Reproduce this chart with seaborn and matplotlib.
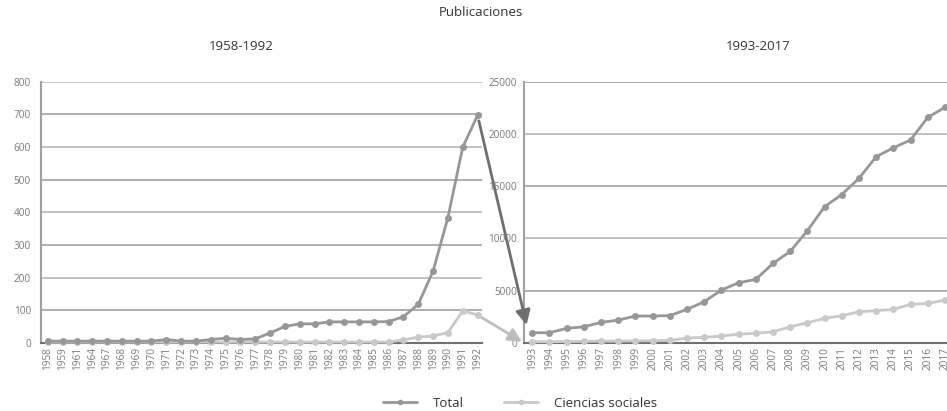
import matplotlib
matplotlib.use("Agg")
import matplotlib.pyplot as plt
from matplotlib.patches import ConnectionPatch
from matplotlib.lines import Line2D
import seaborn as sns
import pandas as pd
import numpy as np

# ---- data ----
years_left = ["1958", "1959", "1961", "1964", "1967", "1968", "1969", "1970", "1971", "1972",
              "1973", "1974", "1975", "1976", "1977", "1978", "1979", "1980", "1981", "1982",
              "1983", "1984", "1985", "1986", "1987", "1988", "1989", "1990", "1991", "1992"]
total_left = [5, 5, 5, 5, 5, 5, 5, 5, 10, 5,
              5, 10, 14, 10, 12, 30, 50, 58, 58, 64,
              64, 64, 64, 65, 80, 118, 220, 384, 600, 697]
social_left = [2, 2, 2, 2, 2, 2, 2, 2, 2, 2,
               2, 2, 2, 2, 2, 2, 2, 2, 2, 2,
               2, 2, 2, 2, 9, 17, 21, 31, 98, 85]

years_right = [str(y) for y in range(1993, 2018)]
total_right = [960, 960, 1380, 1530, 1950, 2170, 2560, 2560, 2600, 3200,
               3930, 5050, 5750, 6070, 7600, 8750, 10730, 13030, 14200, 15750,
               17820, 18680, 19420, 21590, 22550]
social_right = [100, 100, 120, 130, 150, 160, 180, 200, 220, 450,
                520, 640, 830, 900, 1050, 1530, 1920, 2340, 2590, 2970,
                3070, 3200, 3680, 3770, 4090]

series_names = ["Total", "Ciencias sociales"]
title = "Publicaciones"
subtitles = ["1958-1992", "1993-2017"]

# ---- style ----
sns.set_theme(style="white")
plt.rcParams["font.family"] = ["Open Sans", "DejaVu Sans"]

dark = "#979797"
light = "#c9c9c9"
palette = {series_names[0]: dark, series_names[1]: light}

def long_df(years, tot, soc):
    n = len(years)
    return pd.DataFrame({
        "pos": list(range(n)) * 2,
        "value": list(tot) + list(soc),
        "serie": [series_names[0]] * n + [series_names[1]] * n,
    })

fig = plt.figure(figsize=(9.47, 4.11), dpi=100)
ax1 = fig.add_axes([0.043, 0.166, 0.4657, 0.635])
ax2 = fig.add_axes([0.5533, 0.166, 0.4467, 0.635])

for ax, years, tot, soc, ymax, step, xl in [
        (ax1, years_left, total_left, social_left, 800, 100, (-0.47, 29.28)),
        (ax2, years_right, total_right, social_right, 25000, 5000, (-0.48, 24.12))]:
    df = long_df(years, tot, soc)
    sns.lineplot(data=df, x="pos", y="value", hue="serie", palette=palette,
                 hue_order=series_names[::-1], marker="o", markersize=5,
                 markeredgewidth=0, linewidth=2, ax=ax, legend=False,
                 clip_on=False, zorder=3)
    ax.set_xlim(*xl)
    ax.set_ylim(0, ymax)
    ax.set_yticks(np.arange(0, ymax + 1, step))
    ax.set_xticks(range(len(years)))
    ax.set_xticklabels(years, rotation=90)
    ax.set_xlabel("")
    ax.set_ylabel("")
    for i, yv in enumerate(np.arange(step, ymax + 1, step)):
        ax.axhline(yv, color="#a9a9a9" if i % 2 == 0 else "#bdbdbd", lw=1.3, zorder=1)
    for s in ["top", "right"]:
        ax.spines[s].set_visible(False)
    ax.spines["left"].set_color("#a0a0a0")
    ax.spines["left"].set_linewidth(1.5)
    ax.spines["bottom"].set_color("#707070")
    ax.spines["bottom"].set_linewidth(1.5)
    ax.tick_params(axis="both", length=0, labelsize=7.2, labelcolor="#7a7a7a")
    ax.tick_params(axis="x", pad=3)
    ax.set_facecolor("none")

ax1.tick_params(axis="y", pad=7)
ax2.tick_params(axis="y", pad=5)

# titles
fig.text(0.508, 1 - 13 / 411, title, ha="center", va="center", fontsize=9.5, color="#333333")
fig.text(241 / 947, 1 - 47 / 411, subtitles[0], ha="center", va="center", fontsize=9.5, color="#333333")
fig.text(758 / 947, 1 - 47 / 411, subtitles[1], ha="center", va="center", fontsize=9.5, color="#333333")

# arrows linking the two periods
arr1 = ConnectionPatch(xyA=(len(total_left) - 1, total_left[-1]), coordsA=ax1.transData,
                       xyB=(-0.33, 1700), coordsB=ax2.transData,
                       arrowstyle="-|>", mutation_scale=22, color="#6f6f6f", lw=2,
                       shrinkA=4, shrinkB=0, zorder=10)
fig.add_artist(arr1)
arr2 = ConnectionPatch(xyA=(len(social_left) - 1, social_left[-1]), coordsA=ax1.transData,
                       xyB=(-0.6, 100), coordsB=ax2.transData,
                       arrowstyle="-|>", mutation_scale=20, color="#bdbdbd", lw=2,
                       shrinkA=4, shrinkB=0, zorder=10)
fig.add_artist(arr2)

# legend
handles = [Line2D([], [], color=dark, lw=2, marker="o", markersize=4, markeredgewidth=0),
           Line2D([], [], color=light, lw=2, marker="o", markersize=4, markeredgewidth=0)]
fig.legend(handles, series_names, loc="center", bbox_to_anchor=(520 / 947, 1 - 403 / 411),
           ncol=2, frameon=False, fontsize=9.5, handlelength=2.6, handletextpad=1.2,
           columnspacing=3.0, labelcolor="#333333")

fig.savefig("out.png", dpi=100)
